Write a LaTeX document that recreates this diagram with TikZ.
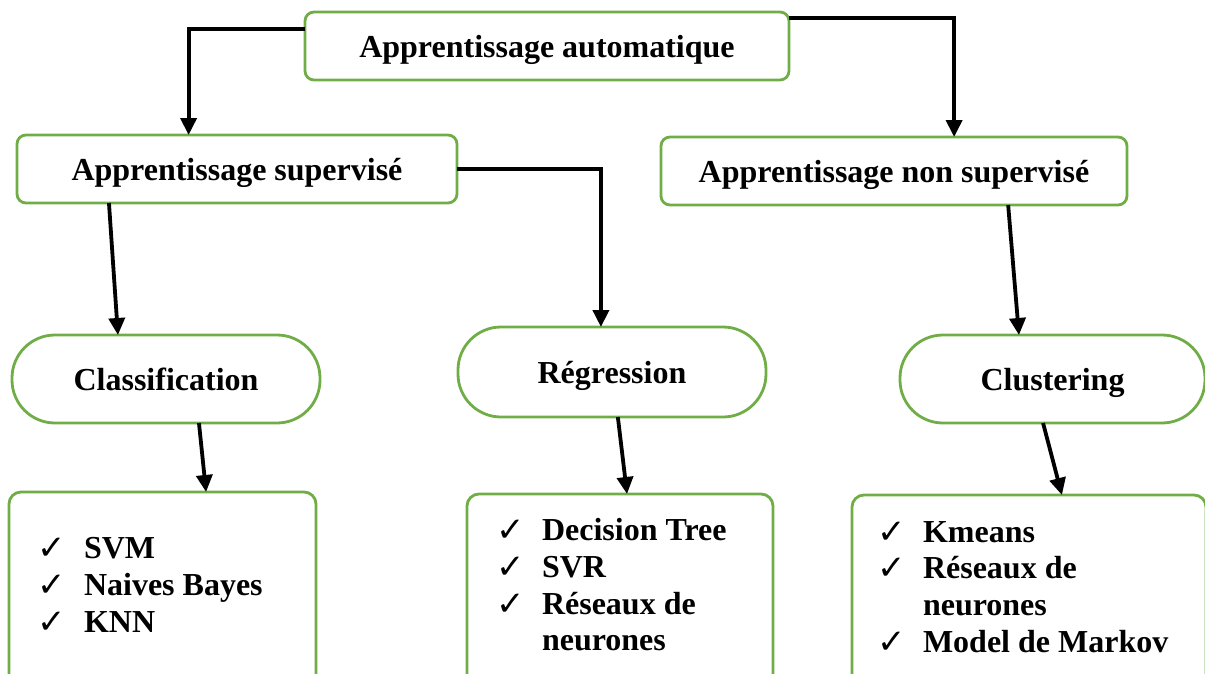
\documentclass[tikz,border=0pt]{standalone}
\usepackage{fontspec}
\setmainfont{Liberation Serif}
\newfontfamily\dejavu{DejaVu Sans}
\usetikzlibrary{arrows.meta,calc}
\definecolor{boxgreen}{HTML}{70AD47}
\begin{document}
\begin{tikzpicture}[x=1pt,y=-1pt,
  every node/.style={inner sep=0pt, outer sep=0pt},
  txt/.style={font=\fontsize{32}{37}\selectfont\bfseries},
  box/.style={draw=boxgreen, line width=2.8pt, rounded corners=9pt, txt, text height=23pt, text depth=0pt},
  pill/.style={draw=boxgreen, line width=2.8pt, rounded corners=43pt, txt, text height=22pt, text depth=0pt},
  listbox/.style={draw=boxgreen, line width=2.8pt, rounded corners=12pt},
  arr/.style={draw=black, line width=3.8pt, -{Triangle[length=17pt,width=16pt]}},
  chk/.style={font=\dejavu\fontsize{34}{34}\selectfont, anchor=base west},
  item/.style={txt, anchor=base west}]
\useasboundingbox (0,0) rectangle (1205,673);
\clip (0,0) rectangle (1205,673);

% level 0 and 1
\node[box, minimum width=484pt, minimum height=68pt] (top) at (547,46) {Apprentissage automatique};
\node[box, minimum width=440pt, minimum height=68pt] (sup) at (237,169) {Apprentissage supervisé};
\node[box, minimum width=466pt, minimum height=68pt] (nsup) at (894,171) {Apprentissage non supervisé};

% level 2
\node[pill, minimum width=308pt, minimum height=88pt] (cls) at (166,379) {Classification};
\node[pill, minimum width=308pt, minimum height=90pt] (reg) at (612,372) {Régression};
\node[pill, minimum width=305pt, minimum height=88pt] (clu) at (1052.5,379) {Clustering};

% level 3 boxes
\node[listbox, minimum width=307pt, minimum height=208pt] (b1) at (162.5,596) {};
\node[listbox, minimum width=306pt, minimum height=206pt] (b2) at (620,597) {};
\node[listbox, minimum width=354pt, minimum height=205pt] (b3) at (1029,597.5) {};

% list 1
\node[chk] (c1a) at (37,559) {✓};
\node[chk] (c1b) at (37,596) {✓};
\node[chk] (c1c) at (37,633) {✓};
\node[item] (t1a) at (84,558) {SVM};
\node[item] (t1b) at (84,595) {Naives Bayes};
\node[item] (t1c) at (84,632) {KNN};

% list 2
\node[chk] (c2a) at (496,541) {✓};
\node[chk] (c2b) at (496,578) {✓};
\node[chk] (c2c) at (496,615) {✓};
\node[item] (t2a) at (542,540) {Decision Tree};
\node[item] (t2b) at (542,577) {SVR};
\node[item] (t2c) at (542,614) {Réseaux de};
\node[item] (t2d) at (542,650) {neurones};

% list 3
\node[chk] (c3a) at (877,543) {✓};
\node[chk] (c3b) at (877,579) {✓};
\node[chk] (c3c) at (877,653) {✓};
\node[item] (t3a) at (923,542) {Kmeans};
\node[item] (t3b) at (923,578) {Réseaux de};
\node[item] (t3c) at (923,615) {neurones};
\node[item] (t3d) at (923,652) {Model de Markov};

% connectors
\draw[arr] ([yshift=17pt]top.west) -| ($(sup.north west)!0.39!(sup.north east)$);
\draw[arr] ([yshift=28pt]top.east) -| ($(nsup.north west)!0.629!(nsup.north east)$);
\draw[arr] (sup.east) -| ($(reg.north west)!0.464!(reg.north east)$);
\draw[arr] ($(sup.south west)!0.209!(sup.south east)$) -- ($(cls.north west)!0.344!(cls.north east)$);
\draw[arr] ($(nsup.south west)!0.745!(nsup.south east)$) -- ($(clu.north west)!0.39!(clu.north east)$);
\draw[arr] ($(cls.south west)!0.607!(cls.south east)$) -- ($(b1.north west)!0.642!(b1.north east)$);
\draw[arr] ($(reg.south west)!0.519!(reg.south east)$) -- ($(b2.north west)!0.523!(b2.north east)$);
\draw[arr] ($(clu.south west)!0.469!(clu.south east)$) -- ($(b3.north west)!0.593!(b3.north east)$);
\end{tikzpicture}
\end{document}
